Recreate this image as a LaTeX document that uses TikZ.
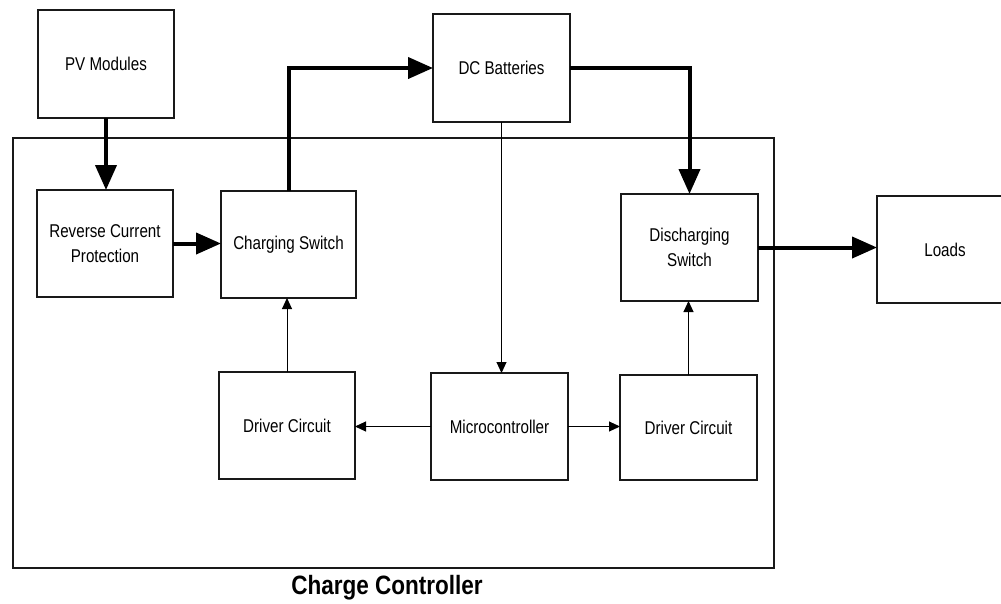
\documentclass[tikz,border=0pt]{standalone}
\usepackage{fontspec}
\setmainfont{Liberation Sans}[FakeStretch=0.82]
\newfontfamily\labelfont{Liberation Sans}[FakeStretch=0.85]
\usetikzlibrary{arrows.meta}
\tikzset{
  box/.style={draw=black!90, line width=1.1pt, rectangle, outer sep=0pt, inner sep=2pt,
    align=center, font=\fontsize{18.5}{25}\selectfont},
  thick arrow/.style={line width=4pt, -{Triangle[width=21pt,length=25pt]}},
  thin arrow/.style={line width=1pt, black, -{Triangle[width=10pt,length=11pt]}},
  frame/.style={draw=black!90, line width=1.2pt}
}
\begin{document}
\begin{tikzpicture}[x=1pt,y=-1pt]
\useasboundingbox (0,0) rectangle (1001,603);
% charge controller frame
\coordinate (f1) at (13,138);
\coordinate (f2) at (774,568);
\draw[frame] (f1) rectangle (f2);
\node[font=\labelfont\fontsize{26.5}{30}\selectfont\bfseries] (cclabel) at (387,588) {Charge Controller};
% boxes
\node[box, minimum width=136pt, minimum height=108pt] (pv) at (106,64) {PV Modules};
\node[box, minimum width=137pt, minimum height=108pt] (dc) at (501.5,68) {DC Batteries};
\node[box, minimum width=136pt, minimum height=107pt] (rcp) at (105,243.5) {Reverse Current\\Protection};
\node[box, minimum width=135pt, minimum height=107pt] (cs) at (288.5,244.5) {Charging Switch};
\node[box, minimum width=137pt, minimum height=107pt] (ds) at (689.5,247.5) {Discharging\\Switch};
\node[box, minimum width=136pt, minimum height=107pt] (ld) at (945,249.5) {Loads};
\node[box, minimum width=136pt, minimum height=107pt] (dl) at (287,425.5) {Driver Circuit};
\node[box, minimum width=137pt, minimum height=107pt] (mc) at (499.5,426.5) {Microcontroller};
\node[box, minimum width=137pt, minimum height=105pt] (dr) at (688.5,427.5) {Driver Circuit};
% thick power arrows
\draw[thick arrow] (pv.south) -- (pv.south |- rcp.north);
\draw[thick arrow] (rcp.east) -- (rcp.east -| cs.west);
\draw[thick arrow] (cs.north) |- (dc.west);
\draw[thick arrow] (dc.east) -| (ds.north);
\draw[thick arrow] (ds.east) -- (ds.east -| ld.west);
% thin control arrows
\draw[thin arrow] (dc.south) -- (dc.south |- mc.north);
\draw[thin arrow] (mc.west) -- (mc.west -| dl.east);
\draw[thin arrow] (mc.east) -- (mc.east -| dr.west);
\draw[thin arrow] (dl.north) -- (dl.north |- cs.south);
\draw[thin arrow] (dr.north) -- (dr.north |- ds.south);
\end{tikzpicture}
\end{document}
